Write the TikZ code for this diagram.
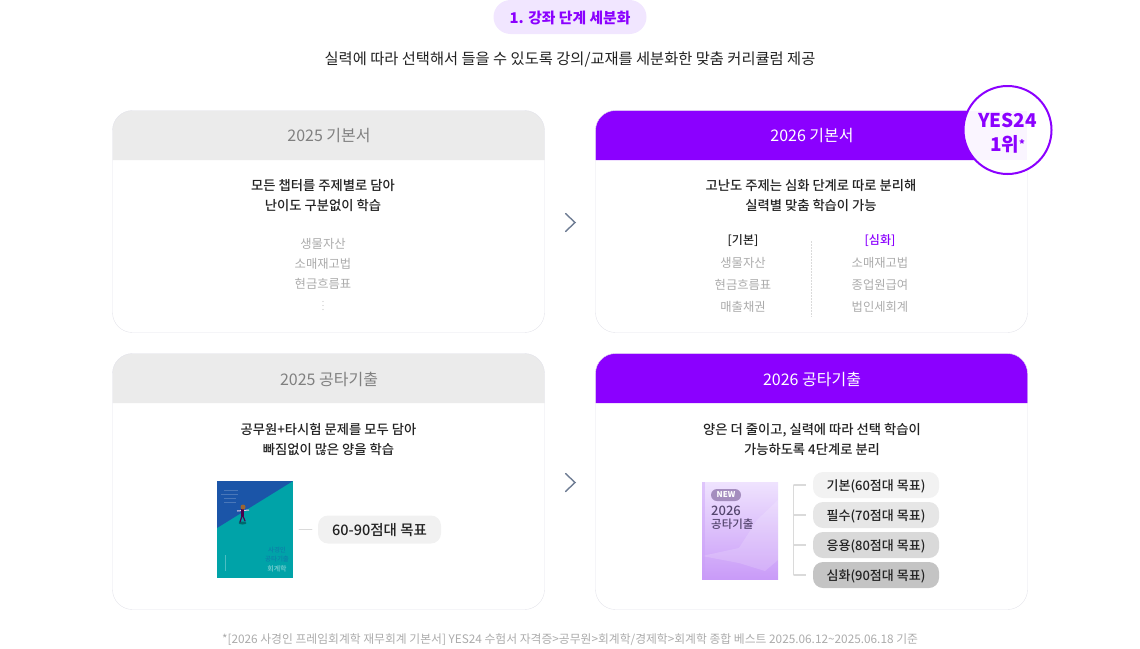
\documentclass[tikz,border=0pt]{standalone}
\usepackage{fontspec}
\setmainfont{Noto Sans CJK KR}
\newfontfamily\medfont{Noto Sans CJK KR Medium}
\usetikzlibrary{arrows}
\definecolor{violetx}{HTML}{8B00FF}
\definecolor{pillv}{HTML}{F1E6FF}
\definecolor{tintv}{HTML}{FAF5FF}
\definecolor{edgeg}{HTML}{E3E3EA}
\definecolor{headg}{HTML}{EBEBEB}
\definecolor{greyt}{HTML}{808080}
\definecolor{listt}{HTML}{ABABAB}
\definecolor{inkt}{HTML}{222222}
\definecolor{chevg}{HTML}{6E7C93}
\definecolor{treeg}{HTML}{DADADA}
\definecolor{tealc}{HTML}{00A3A8}
\definecolor{bluec}{HTML}{1B55A8}
\definecolor{covertop}{HTML}{EFE3FE}
\definecolor{coverbot}{HTML}{C99BF8}
\definecolor{newtag}{HTML}{A48DBE}
\definecolor{covertext}{HTML}{54456E}
\definecolor{goala}{HTML}{F2F2F2}
\definecolor{goalb}{HTML}{E6E6E6}
\definecolor{goalc}{HTML}{D9D9D9}
\definecolor{goald}{HTML}{C4C4C4}
\def\fz#1{\fontsize{#1}{20}\selectfont}
\newcommand\cardshape[5]{
\fill [#5] (#1,#2+49.5) -- (#1,#2+20) arc[start angle=180,end angle=90,radius=20pt] -- (#3-20,#2) arc[start angle=90,end angle=0,radius=20pt] -- (#3,#2+49.5) -- cycle;
\draw [edgeg,rounded corners=20pt] (#1,#2) rectangle (#3,#4);
}
\tikzset{
headtext/.style={font=\fz{16},inner sep=0pt},
bodytext/.style={font=\medfont\fz{13.3},text=inkt,align=center,inner sep=0pt},
listtext/.style={font=\fz{12.3},text=listt,inner sep=0pt},
goalpill/.style={rounded corners=10pt,minimum width=126pt,minimum height=26pt,inner sep=0pt,text height=14pt,text depth=3pt,font=\medfont\fz{13},text=inkt},
linkline/.style={treeg,line width=1.2pt},
chevron/.style={chevg,line width=1.4pt,line join=miter}
}
\begin{document}
\begin{tikzpicture}[line cap=round,line join=round,x=1pt,y=-1pt]
\useasboundingbox (0,0) rectangle (1140,648);
\node [fill=pillv,rounded corners=17pt,minimum width=153pt,minimum height=34pt,inner sep=0pt,text height=15pt,text depth=3pt,font=\bfseries\fz{14.8},text=violetx] (steptag) at (570,17) {1. 강좌 단계 세분화};
\node [font=\fz{15.3},text=inkt,inner sep=0pt] (subline) at (570,59.5) {실력에 따라 선택해서 들을 수 있도록 강의/교재를 세분화한 맞춤 커리큘럼 제공};
\cardshape{112.5}{110.5}{544.5}{332.5}{headg}
\cardshape{595.5}{110.5}{1027.5}{332.5}{violetx}
\cardshape{112.5}{353.5}{544.5}{609.5}{headg}
\cardshape{595.5}{353.5}{1027.5}{609.5}{violetx}
\node [headtext,text=greyt] (oldbasic) at (329,136) {2025 기본서};
\node [headtext,text=white] (newbasic) at (812,136) {2026 기본서};
\node [headtext,text=greyt] (oldpast) at (329,379) {2025 공타기출};
\node [headtext,text=white] (newpast) at (812,379) {2026 공타기출};
\node [bodytext] (oldbasicnote) at (323,196) {모든 챕터를 주제별로 담아\\난이도 구분없이 학습};
\node [bodytext] (newbasicnote) at (811,196) {고난도 주제는 심화 단계로 따로 분리해\\실력별 맞춤 학습이 가능};
\node [bodytext] (oldpastnote) at (328.5,439) {공무원+타시험 문제를 모두 담아\\빠짐없이 많은 양을 학습};
\node [bodytext] (newpastnote) at (812,439) {양은 더 줄이고, 실력에 따라 선택 학습이\\가능하도록 4단계로 분리};
\node [listtext] (olda) at (323,244) {생물자산};
\node [listtext] (oldb) at (323,264) {소매재고법};
\node [listtext] (oldc) at (323,284) {현금흐름표};
\fill [listt!70] (323,301.5) circle (0.6pt) (323,305.5) circle (0.6pt) (323,309.5) circle (0.6pt);
\node [font=\medfont\fz{12},text=inkt,inner sep=0pt] (basehead) at (743,241) {[기본]};
\node [font=\medfont\fz{12},text=violetx,inner sep=0pt] (deephead) at (880,241) {[심화]};
\node [listtext] (basea) at (743,263) {생물자산};
\node [listtext] (baseb) at (743,285) {현금흐름표};
\node [listtext] (basec) at (743,307) {매출채권};
\node [listtext] (deepa) at (880,263) {소매재고법};
\node [listtext] (deepb) at (880,285) {종업원급여};
\node [listtext] (deepc) at (880,307) {법인세회계};
\draw [treeg,line width=0.8pt,line cap=butt,dash pattern=on 1.5pt off 1.5pt] (811.5,241) -- (811.5,317);
\draw [chevron] (565.5,213.5) -- (575,222.5) -- (565.5,231.5);
\draw [chevron] (565.5,473.5) -- (575,482.5) -- (565.5,491.5);
\fill [white] (1007.5,130) circle (44pt);
\begin{scope}
\clip (1007.5,130) circle (44pt);
\fill [tintv] (960,111) rectangle (1027,160);
\end{scope}
\draw [violetx,line width=2pt] (1007.5,130) circle (44pt);
\node [font=\bfseries\fontsize{19}{24}\selectfont,text=violetx,align=center,inner sep=0pt] (rankmark) at (1007.5,133) {YES24\\1위{\fz{11}\raisebox{3pt}{*}}};
\node [fill=tealc,minimum width=76pt,minimum height=97pt,inner sep=0pt] (oldcover) at (255,529.5) {};
\fill [bluec] (217,481) -- (293,481) -- (217,528) -- cycle;
\draw [white!20!bluec,line width=0.8pt,line cap=butt] (224,490) -- (238,490) (221,494) -- (238,494) (224,498) -- (236,498) (224,502) -- (236,502);
\fill [black!60!tealc,opacity=.6] (242.5,523) ellipse (4pt and 1.5pt);
\draw [white!80!violet,line width=1pt,line cap=butt] (237,511) -- (249,510);
\draw [violet!60!black,line width=2.2pt,line cap=butt] (242.5,509) -- (242.5,516);
\draw [violet!60!black,line width=1.2pt] (242,516) -- (240,522) (243,516) -- (245,521);
\fill [brown!80!black] (243,507) circle (2.5pt);
\node [font=\medfont\fz{6.5},text=bluec!45!tealc,inner sep=0pt] (coverauthor) at (277,550) {사경인};
\node [font=\medfont\fz{6.5},text=bluec!45!tealc,inner sep=0pt] (covertitle) at (277,559) {공타기출};
\node [font=\medfont\fz{7},text=white!50!tealc,inner sep=0pt] (coversubject) at (277,568.5) {회계학};
\draw [white!30!tealc,line width=0.8pt,line cap=butt] (225.5,555) -- (225.5,571);
\node [fill=headg!70!white,rounded corners=10pt,minimum width=123pt,minimum height=28pt,inner sep=0pt,text height=15pt,text depth=3pt,font=\medfont\fz{14.5},text=inkt] (oldgoal) at (379.5,529.5) {60-90점대 목표};
\draw [linkline,shorten <=6pt,shorten >=6pt] (oldcover.east) -- (oldgoal.west);
\node [minimum width=76pt,minimum height=97pt,inner sep=0pt,top color=covertop,bottom color=coverbot] (newcover) at (740,530.5) {};
\fill [white,opacity=.16] (702,556) -- (739,548) -- (757,520) -- (778,500) -- (778,560) -- (765,571) -- (739,563) -- cycle;
\fill [coverbot,opacity=.4] (702,482) rectangle (705,579);
\node [fill=newtag,rounded corners=6pt,minimum width=30pt,minimum height=12pt,inner sep=0pt,font=\bfseries\fz{8},text=white] (newtagmark) at (726,495) {NEW};
\node [anchor=west,font=\medfont\fz{13},text=covertext,inner sep=0pt] (coveryear) at (711,510.5) {2026};
\node [anchor=west,font=\medfont\fz{11.5},text=covertext,inner sep=0pt] (covername) at (711,524.5) {공타기출};
\node [goalpill,fill=goala] (goalone) at (876,485) {기본(60점대 목표)};
\node [goalpill,fill=goalb] (goaltwo) at (876,515) {필수(70점대 목표)};
\node [goalpill,fill=goalc] (goalthree) at (876,545) {응용(80점대 목표)};
\node [goalpill,fill=goald] (goalfour) at (876,575) {심화(90점대 목표)};
\coordinate (trunktop) at (793.5,485);
\coordinate (trunktwo) at (793.5,515);
\coordinate (trunkthree) at (793.5,545);
\coordinate (trunkend) at (793.5,575);
\draw [linkline,shorten >=7pt,line cap=butt] (trunktop) -- (goalone.west);
\draw [linkline,shorten >=7pt,line cap=butt] (trunktwo) -- (goaltwo.west);
\draw [linkline,shorten >=7pt,line cap=butt] (trunkthree) -- (goalthree.west);
\draw [linkline,shorten >=7pt,line cap=butt] (trunkend) -- (goalfour.west);
\draw [linkline] (trunktop) -- (trunkend);
\node [font=\fz{11.8},text=listt,inner sep=0pt] (footnote) at (570,639.5) {*[2026 사경인 프레임회계학 재무회계 기본서] YES24 수험서 자격증>공무원>회계학/경제학>회계학 종합 베스트 2025.06.12\textasciitilde2025.06.18 기준};
\end{tikzpicture}
\end{document}
